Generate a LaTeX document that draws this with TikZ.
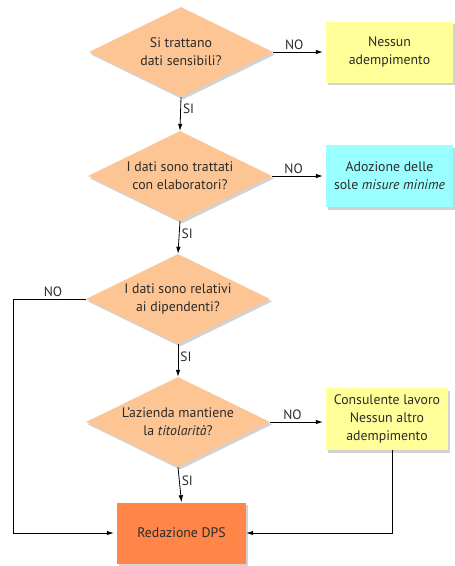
\documentclass[tikz,border=0pt]{standalone}
\usepackage{fontspec}
\setmainfont{PT Sans}
\usetikzlibrary{shapes.geometric,arrows.meta,shadows}
\definecolor{peach}{HTML}{FDC593}
\definecolor{lyellow}{HTML}{FFFF99}
\definecolor{lcyan}{HTML}{99FFFF}
\definecolor{dpsorange}{HTML}{FF8549}
\definecolor{txt}{HTML}{2B2B2B}
\begin{document}
\begin{tikzpicture}[x=1pt,y=-1pt,
  every node/.style={font=\fontsize{13.8}{18}\selectfont, text=txt},
  shad/.style={drop shadow={shadow xshift=2pt,shadow yshift=-2.5pt,opacity=0.35}},
  decision/.style={diamond, aspect=2, fill=peach, inner sep=0pt,
    minimum width=184pt, minimum height=90pt, align=center, shad},
  outbox/.style={rectangle, inner sep=2pt, minimum width=127pt,
    minimum height=61pt, align=center, shad},
  arr/.style={draw=black, line width=0.8pt, -{Latex[length=7pt,width=4.5pt]}},
  lbl/.style={font=\fontsize{13.5}{15}\selectfont, inner sep=2pt}
]
\useasboundingbox (0,0) rectangle (455,566);
\fill[white] (0,0) rectangle (455,566);

\node[decision] (d1) at (181,52) {Si trattano\\dati sensibili?};
\node[decision] (d2) at (180,176) {I dati sono trattati\\con elaboratori?};
\node[decision] (d3) at (178,299) {I dati sono relativi\\ai dipendenti?};
\node[decision] (d4) at (178,422) {L’azienda mantiene\\la \textit{titolarità}?};

\node[outbox, fill=lyellow] (b1) at (389.5,52) {Nessun\\adempimento};
\node[outbox, fill=lcyan, minimum height=62pt] (b2) at (389.5,176) {Adozione delle\\sole \textit{misure minime}};
\node[outbox, fill=lyellow, minimum width=122pt, minimum height=62pt] (b3) at (387,419) {Consulente lavoro\\Nessun altro\\adempimento};
\node[outbox, fill=dpsorange, minimum width=129pt, minimum height=61pt] (dps) at (181.5,533) {Redazione DPS};

\draw[arr, shorten >=3pt] (d1.east) -- node[lbl, above, pos=0.4] {NO} (b1.west);
\draw[arr, shorten >=3pt] (d2.east) -- node[lbl, above, pos=0.4] {NO} (b2.west);
\draw[arr, shorten >=3pt] (d4.east) -- node[lbl, above, pos=0.4] {NO} (d4.east -| b3.west);

\draw[arr] (d1.south) -- node[lbl, right, pos=0.35] {SI} (d2.north);
\draw[arr] (d2.south) -- node[lbl, right, pos=0.4] {SI} (d3.north);
\draw[arr] (d3.south) -- node[lbl, right, pos=0.4] {SI} (d4.north);
\draw[arr] (d4.south) -- node[lbl, right, pos=0.4] {SI} (dps.north);

\coordinate (lcorner) at (13,299);
\draw[arr, shorten >=3pt] (d3.west) -- node[lbl, above, pos=0.45] {NO} (lcorner) |- (dps.west);

\coordinate (b3out) at (392,450);
\draw[arr] (b3out) |- (dps.east);
\end{tikzpicture}
\end{document}
